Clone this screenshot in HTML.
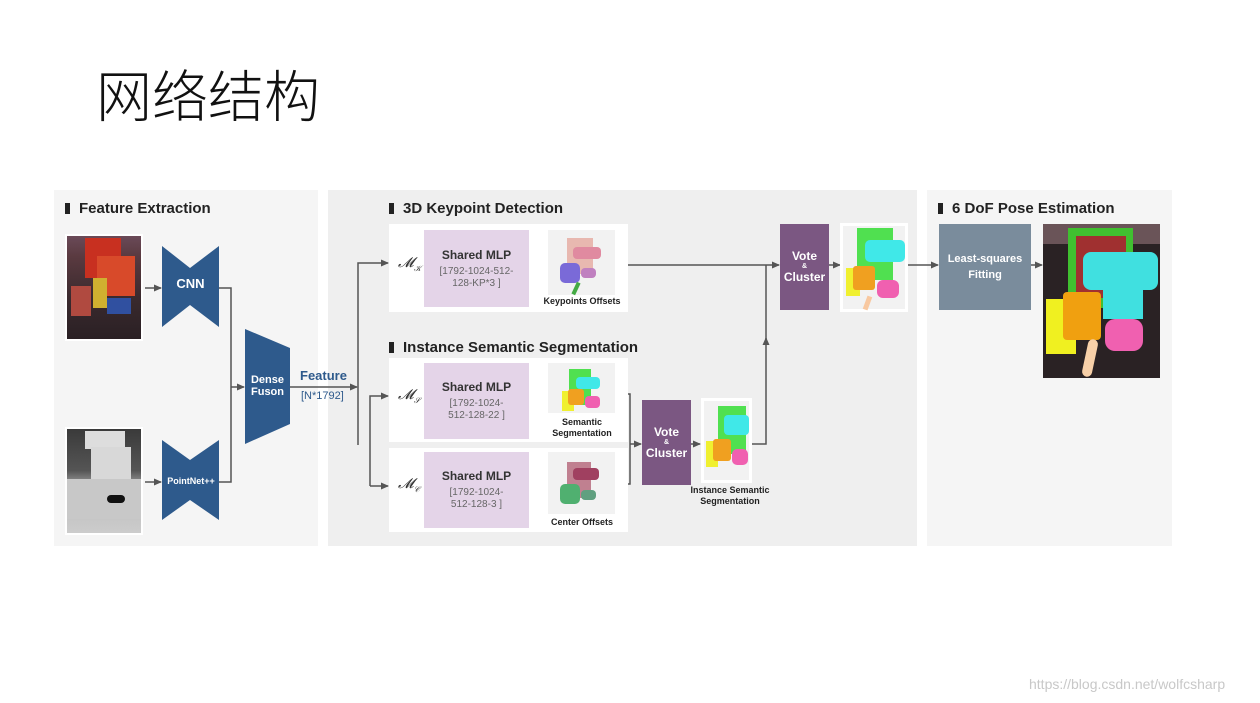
<!DOCTYPE html>
<html><head><meta charset="utf-8"><style>
*{margin:0;padding:0;box-sizing:border-box}
body{width:1260px;height:703px;background:#fff;position:relative;overflow:hidden;font-family:"Liberation Sans","Noto Sans CJK SC",sans-serif}
.a{position:absolute}
.h{position:absolute;font-weight:bold;font-size:15px;color:#222;white-space:nowrap}
.h:before{content:"";display:inline-block;width:5px;height:11px;background:#222;margin-right:9px;vertical-align:-1px}
.c{display:flex;align-items:center;justify-content:center;text-align:center;flex-direction:column}
.mlp{background:#e4d4e8;color:#333}
.mlp b{font-size:12px}
.mlp span{font-size:10px;color:#666;line-height:12px;margin-top:4px}
.vote{background:#7b5782;color:#fff;font-weight:bold;font-size:12px;line-height:13px}
.cap{position:absolute;font-size:9px;font-weight:bold;color:#222;text-align:center;line-height:11px;white-space:nowrap}
.m{position:absolute;font-family:"Liberation Serif",serif;font-style:italic;font-size:14px;color:#333}
</style></head><body>
<div class="a" style="left:96px;top:58px;font-size:56px;font-weight:300;color:#111;font-family:'Noto Sans CJK SC',sans-serif;line-height:72px">网络结构</div>

<div class="a" style="left:54px;top:190px;width:264px;height:356px;background:#f5f5f5"></div>
<div class="a" style="left:328px;top:190px;width:589px;height:356px;background:#efefef"></div>
<div class="a" style="left:927px;top:190px;width:245px;height:356px;background:#f5f5f5"></div>

<div class="h" style="left:65px;top:200px">Feature Extraction</div>
<div class="h" style="left:389px;top:200px">3D Keypoint Detection</div>
<div class="h" style="left:389px;top:339px">Instance Semantic Segmentation</div>
<div class="h" style="left:938px;top:200px">6 DoF Pose Estimation</div>

<!-- RGB image -->
<div class="a" style="left:65px;top:234px;width:78px;height:107px;background:#fff;padding:2px">
 <div style="width:100%;height:100%;background:linear-gradient(180deg,#6a4a58 0%,#5a3a40 20%,#3a2a2e 60%,#2a2024 100%);position:relative">
  <div class="a" style="left:18px;top:2px;width:36px;height:40px;background:#c83020"></div>
  <div class="a" style="left:30px;top:20px;width:38px;height:40px;background:#d84a2a"></div>
  <div class="a" style="left:4px;top:50px;width:20px;height:30px;background:#b04a40"></div>
  <div class="a" style="left:40px;top:62px;width:24px;height:16px;background:#3050a0"></div>
  <div class="a" style="left:26px;top:42px;width:14px;height:30px;background:#d0b030"></div>
 </div></div>
<!-- depth image -->
<div class="a" style="left:65px;top:427px;width:78px;height:108px;background:#fff;padding:2px">
 <div style="width:100%;height:100%;background:linear-gradient(180deg,#3a3a3a 0%,#555 40%,#bbb 60%,#ccc 100%);position:relative">
  <div class="a" style="left:18px;top:2px;width:40px;height:18px;background:#ddd"></div>
  <div class="a" style="left:24px;top:18px;width:40px;height:50px;background:#d8d8d8"></div>
  <div class="a" style="left:0;top:50px;width:74px;height:40px;background:#c8c8c8"></div>
  <div class="a" style="left:40px;top:66px;width:18px;height:8px;background:#111;border-radius:4px"></div>
 </div></div>

<svg class="a" style="left:0;top:0" width="1260" height="703">
 <defs><marker id="ar" markerWidth="8" markerHeight="8" refX="7" refY="4" orient="auto" markerUnits="userSpaceOnUse"><path d="M0,0.5 L8,4 L0,7.5z" fill="#555"/></marker></defs>
 <g fill="#2e5a8c">
  <polygon points="162,246 190,268 219,246 219,327 190,305 162,327"/>
  <polygon points="162,440 190,460 219,440 219,520 190,500 162,520"/>
  <polygon points="245,329 290,348 290,424 245,444"/>
 </g>
 <g stroke="#555" stroke-width="1.5" fill="none">
  <line x1="145" y1="288" x2="161" y2="288" marker-end="url(#ar)"/>
  <line x1="145" y1="482" x2="161" y2="482" marker-end="url(#ar)"/>
  <polyline points="219,288 231,288 231,482 219,482"/>
  <line x1="231" y1="387" x2="244" y2="387" marker-end="url(#ar)"/>
  <line x1="290" y1="387" x2="357" y2="387" marker-end="url(#ar)"/>
  <polyline points="358,445 358,263 388,263" marker-end="url(#ar)"/>
  <polyline points="370,486 370,396 388,396" marker-end="url(#ar)"/>
  <line x1="370" y1="486" x2="388" y2="486" marker-end="url(#ar)"/>
  <line x1="529" y1="265" x2="547" y2="265" marker-end="url(#ar)"/>
  <line x1="529" y1="396" x2="547" y2="396" marker-end="url(#ar)"/>
  <line x1="529" y1="486" x2="547" y2="486" marker-end="url(#ar)"/>
  <line x1="615" y1="265" x2="779" y2="265" marker-end="url(#ar)"/>
  <polyline points="617,394 630,394 630,484 617,484"/>
  <line x1="630" y1="444" x2="641" y2="444" marker-end="url(#ar)"/>
  <line x1="691" y1="444" x2="700" y2="444" marker-end="url(#ar)"/>
  <polyline points="752,444 766,444 766,338" marker-end="url(#ar)"/>
  <line x1="766" y1="340" x2="766" y2="265"/>
  <line x1="829" y1="265" x2="840" y2="265" marker-end="url(#ar)"/>
  <line x1="907" y1="265" x2="938" y2="265" marker-end="url(#ar)"/>
  <line x1="1031" y1="265" x2="1042" y2="265" marker-end="url(#ar)"/>
 </g>
</svg>

<div class="a c" style="left:162px;top:276px;width:57px;color:#fff;font-weight:bold;font-size:13px">CNN</div>
<div class="a c" style="left:160px;top:476px;width:62px;color:#fff;font-weight:bold;font-size:9px">PointNet++</div>
<div class="a c" style="left:245px;top:374px;width:45px;color:#fff;font-weight:bold;font-size:11px;line-height:12px">Dense<br>Fuson</div>
<div class="a" style="left:300px;top:368px;color:#2e5a8c;font-weight:bold;font-size:13px">Feature</div>
<div class="a" style="left:301px;top:390px;color:#2e5a8c;font-size:11px">[N*1792]</div>

<!-- white rows -->
<div class="a" style="left:389px;top:224px;width:239px;height:88px;background:#fff"></div>
<div class="a" style="left:389px;top:358px;width:239px;height:84px;background:#fff"></div>
<div class="a" style="left:389px;top:448px;width:239px;height:84px;background:#fff"></div>
<div class="m" style="left:398px;top:256px">𝓜<sub style="font-size:8px">𝒦</sub></div>
<div class="m" style="left:398px;top:388px">𝓜<sub style="font-size:8px">𝒮</sub></div>
<div class="m" style="left:398px;top:477px">𝓜<sub style="font-size:8px">𝒞</sub></div>

<div class="a c mlp" style="left:424px;top:230px;width:105px;height:77px"><b>Shared MLP</b><span>[1792-1024-512-<br>128-KP*3 ]</span></div>
<div class="a c mlp" style="left:424px;top:363px;width:105px;height:76px"><b>Shared MLP</b><span>[1792-1024-<br>512-128-22 ]</span></div>
<div class="a c mlp" style="left:424px;top:452px;width:105px;height:76px"><b>Shared MLP</b><span>[1792-1024-<br>512-128-3 ]</span></div>

<!-- small point cloud images -->
<div class="a" style="left:548px;top:230px;width:67px;height:65px;background:#f2f2f2">
 <div class="a" style="left:19px;top:8px;width:26px;height:36px;background:#e8b8b0"></div>
 <div class="a" style="left:25px;top:17px;width:28px;height:12px;background:#e08aa0;border-radius:4px"></div>
 <div class="a" style="left:12px;top:33px;width:20px;height:20px;background:#7a6ad8;border-radius:5px"></div>
 <div class="a" style="left:33px;top:38px;width:15px;height:10px;background:#c080c0;border-radius:4px"></div>
 <div class="a" style="left:26px;top:52px;width:4px;height:13px;background:#4a4;transform:rotate(25deg)"></div>
</div>
<div class="cap" style="left:540px;top:296px;width:84px">Keypoints Offsets</div>
<div class="a" style="left:548px;top:363px;width:67px;height:50px;background:#f2f2f2">
 <div class="a" style="left:21px;top:6px;width:22px;height:36px;background:#50e050"></div>
 <div class="a" style="left:28px;top:14px;width:24px;height:12px;background:#40e8e8;border-radius:4px"></div>
 <div class="a" style="left:14px;top:28px;width:12px;height:20px;background:#f0f030"></div>
 <div class="a" style="left:20px;top:26px;width:16px;height:16px;background:#f0a020;border-radius:3px"></div>
 <div class="a" style="left:37px;top:33px;width:15px;height:12px;background:#f060b0;border-radius:4px"></div>
</div>
<div class="cap" style="left:540px;top:417px;width:84px">Semantic<br>Segmentation</div>
<div class="a" style="left:548px;top:452px;width:67px;height:62px;background:#f2f2f2">
 <div class="a" style="left:19px;top:10px;width:24px;height:36px;background:#c08090"></div>
 <div class="a" style="left:25px;top:16px;width:26px;height:12px;background:#a04060;border-radius:4px"></div>
 <div class="a" style="left:12px;top:32px;width:20px;height:20px;background:#50b070;border-radius:5px"></div>
 <div class="a" style="left:33px;top:38px;width:15px;height:10px;background:#60a080;border-radius:4px"></div>
</div>
<div class="cap" style="left:540px;top:517px;width:84px">Center Offsets</div>

<div class="a c vote" style="left:642px;top:400px;width:49px;height:85px">Vote<br><span style="font-size:7px;line-height:8px">&amp;</span>Cluster</div>
<div class="a c vote" style="left:780px;top:224px;width:49px;height:86px">Vote<br><span style="font-size:7px;line-height:8px">&amp;</span>Cluster</div>

<div class="a" style="left:701px;top:398px;width:51px;height:85px;background:#fff;padding:3px"><div style="position:relative;width:100%;height:100%;background:#f2f2f2">
 <div class="a" style="left:14px;top:5px;width:28px;height:48px;background:#50e050"></div>
 <div class="a" style="left:20px;top:14px;width:25px;height:20px;background:#40e8e8;border-radius:4px"></div>
 <div class="a" style="left:2px;top:40px;width:12px;height:26px;background:#f0f030"></div>
 <div class="a" style="left:9px;top:38px;width:18px;height:22px;background:#f0a020;border-radius:3px"></div>
 <div class="a" style="left:28px;top:48px;width:16px;height:16px;background:#f060b0;border-radius:5px"></div>
</div></div>
<div class="cap" style="left:680px;top:485px;width:100px">Instance Semantic<br>Segmentation</div>

<div class="a" style="left:840px;top:223px;width:68px;height:89px;background:#fff;padding:3px"><div style="position:relative;width:100%;height:100%;background:#f2f2f2">
 <div class="a" style="left:14px;top:2px;width:36px;height:52px;background:#50e050"></div>
 <div class="a" style="left:22px;top:14px;width:40px;height:22px;background:#40e8e8;border-radius:5px"></div>
 <div class="a" style="left:3px;top:42px;width:14px;height:28px;background:#f0f030"></div>
 <div class="a" style="left:10px;top:40px;width:22px;height:24px;background:#f0a020;border-radius:3px"></div>
 <div class="a" style="left:34px;top:54px;width:22px;height:18px;background:#f060b0;border-radius:6px"></div>
 <div class="a" style="left:22px;top:70px;width:5px;height:14px;background:#f8c8a0;transform:rotate(20deg)"></div>
</div></div>

<div class="a c" style="left:939px;top:224px;width:92px;height:86px;background:#7a8c9c;color:#fff;font-weight:bold;font-size:11px;line-height:16px">Least-squares<br>Fitting</div>

<div class="a" style="left:1043px;top:224px;width:117px;height:154px;background:#2a2224">
 <div class="a" style="left:0;top:0;width:117px;height:20px;background:#6a5458"></div>
 <div class="a" style="left:25px;top:4px;width:65px;height:80px;background:#40c030"></div>
 <div class="a" style="left:33px;top:12px;width:50px;height:62px;background:#a03030"></div>
 <div class="a" style="left:40px;top:28px;width:75px;height:38px;background:#40e0e0;border-radius:8px"></div>
 <div class="a" style="left:60px;top:50px;width:40px;height:45px;background:#40e0e0"></div>
 <div class="a" style="left:3px;top:75px;width:30px;height:55px;background:#f0f020"></div>
 <div class="a" style="left:20px;top:68px;width:38px;height:48px;background:#f0a010;border-radius:4px"></div>
 <div class="a" style="left:62px;top:95px;width:38px;height:32px;background:#f060b0;border-radius:10px"></div>
 <div class="a" style="left:42px;top:115px;width:10px;height:38px;background:#f8d0a8;border-radius:5px;transform:rotate(12deg)"></div>
</div>

<div class="a" style="left:1029px;top:676px;font-size:14px;color:#c8c8c8">https://blog.csdn.net/wolfcsharp</div>
</body></html>
